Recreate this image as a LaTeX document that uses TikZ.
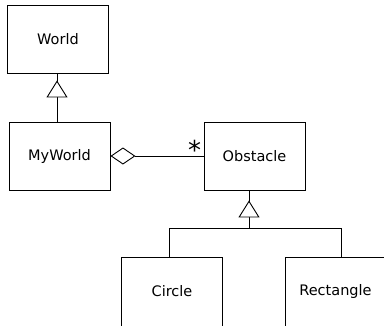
\documentclass[tikz,border=0pt]{standalone}
\usepackage{fontspec}
\setmainfont{DejaVu Sans}
\usetikzlibrary{arrows.meta}
\begin{document}
\begin{tikzpicture}[x=1pt,y=-1pt,
  cls/.style={draw, line width=0.9pt, minimum width=101pt, minimum height=68pt, inner sep=0pt, font=\fontsize{14.5}{16}\selectfont},
  conn/.style={line width=0.9pt},
  inh/.style={conn, -{Triangle[width=21pt,length=17pt,fill=white,line width=0.9pt]}},
  agg/.style={conn, {Diamond[width=17pt,length=25pt,fill=white,line width=0.9pt]}-},
  mult/.style={inner sep=0pt, font=\fontsize{26}{26}\selectfont}]
\useasboundingbox (0,0) rectangle (384,325);
\node[cls] (World) at (58,39) {World};
\node[cls] (MyWorld) at (59.5,156) {MyWorld};
\node[cls] (Obstacle) at (254.5,156) {Obstacle};
\node[cls, minimum height=69pt] (Circle) at (172,291.5) {Circle};
\node[cls, minimum height=69pt] (Rectangle) at (335.5,291.5) {Rectangle};
% World <- MyWorld
\coordinate (wtop) at ([xshift=-1pt]World.south);
\coordinate (wbot) at (wtop |- MyWorld.north);
\draw[conn] (wbot) -- (wtop);
\draw[inh, shorten >=7pt] (wbot) -- (wtop);
% aggregation
\draw[agg] (MyWorld.east) -- (Obstacle.west);
\node[mult] (star) at (194.5,150) {*};
% Obstacle <- Circle, Rectangle
\coordinate (ob) at ([xshift=-5.5pt]Obstacle.south);
\path (ob) ++(0,38) coordinate (jn);
\coordinate (ct) at ([xshift=-3pt]Circle.north);
\coordinate (rt) at ([xshift=5.5pt]Rectangle.north);
\draw[conn] (ct) |- (jn) -| (rt);
\draw[conn] (jn) -- (ob);
\draw[inh, shorten >=10pt] (jn) -- (ob);
\end{tikzpicture}
\end{document}
